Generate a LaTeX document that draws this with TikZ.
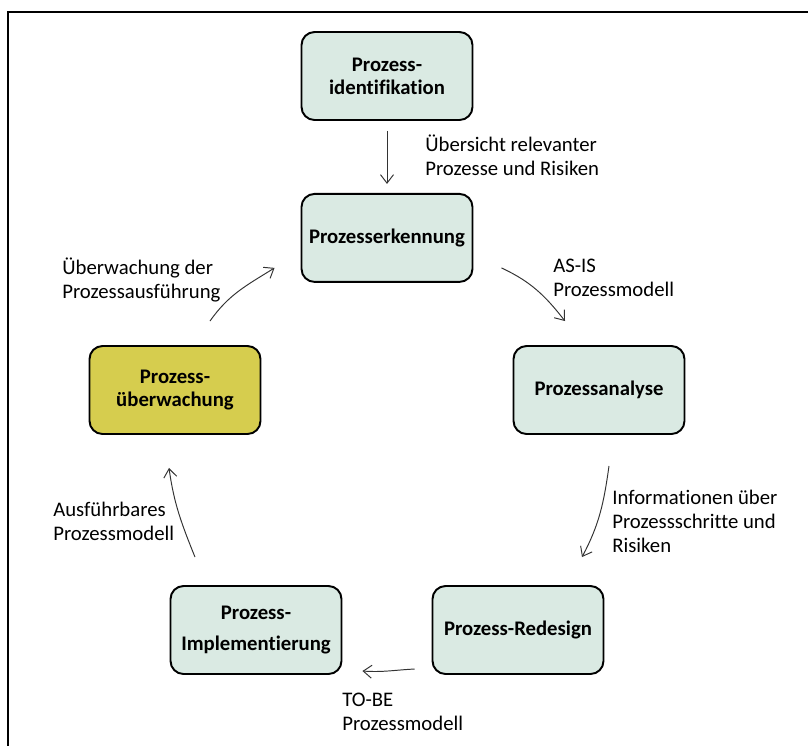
\documentclass[tikz,border=0pt]{standalone}
\usepackage{fontspec}
\setmainfont{Carlito}[Ligatures={NoCommon,TeX}]
\usepackage{xcolor}
\usepackage{tikz}
\usetikzlibrary{positioning,arrows.meta,calc}
\definecolor{boxgreen}{HTML}{DAEAE3}
\definecolor{boxyellow}{HTML}{D6CD4E}

\begin{document}
\begin{tikzpicture}[x=0.02cm, y=-0.02cm,
  box/.style={draw, rounded corners=0.26cm, line width=1.1pt, fill=boxgreen,
    minimum width=3.42cm, minimum height=1.76cm, align=center,
    font=\fontsize{11.8}{13.2}\selectfont\bfseries},
  lbl/.style={anchor=west, align=left, inner sep=0pt,
    font=\fontsize{11.8}{13.7}\selectfont},
  arr/.style={draw=black!80, line width=0.55pt,
    -{Straight Barb[length=1.7mm,width=2.6mm]}}]
  \useasboundingbox (0,0) rectangle (808,745);
  \draw[line width=0.9pt] (8,12) rectangle (830,770);

  % process steps
  \node[box] (ident) at (387,76) {Prozess-\\identifikation};
  \node[box, below=1.44cm of ident] (erkennung) {Prozesserkennung};
  \node[box] (analyse) at (599,390) {Prozessanalyse};
  \node[box] (redesign) at (518,630) {Prozess-Redesign};
  \node[box] (impl) at (256,630) {Prozess-\\[0.17cm]Implementierung};
  \node[box, fill=boxyellow] (ueberw) at (175,390) {Prozess-\\überwachung};

  % transitions
  \draw[arr, shorten <=0.2cm, shorten >=0.18cm] (ident) -- (erkennung);
  \draw[arr] ($(erkennung.east)+(28,30)$) to[out=-25, in=128] ($(analyse.north)+(-34,-24)$);
  \draw[arr] ($(analyse.south)+(10,31)$) to[out=-98, in=62] ($(redesign.north)+(64,-28)$);
  \draw[arr] ($(redesign.west)+(-17,39)$) to[out=183, in=-4] ($(impl.east)+(20,41)$);
  \draw[arr] ($(impl.north)+(-61,-28)$) to[out=112, in=-82] ($(ueberw.south)+(-6,33)$);
  \draw[arr] ($(ueberw.north)+(35,-24)$) to[out=55, in=-148] ($(erkennung.west)+(-26,30)$);

  % labels
  \node[lbl] (lident) at (425,155) {Übersicht relevanter\\Prozesse und Risiken};
  \node[lbl] (lerkennung) at (553,278) {AS-IS\\Prozessmodell};
  \node[lbl] (lanalyse) at (612,521) {Informationen über\\Prozessschritte und\\Risiken};
  \node[lbl] (lredesign) at (342,712) {TO-BE\\Prozessmodell};
  \node[lbl] (limpl) at (53,521) {Ausführbares\\Prozessmodell};
  \node[lbl] (lueberw) at (62,280) {Überwachung der\\Prozessausführung};
\end{tikzpicture}
\end{document}
